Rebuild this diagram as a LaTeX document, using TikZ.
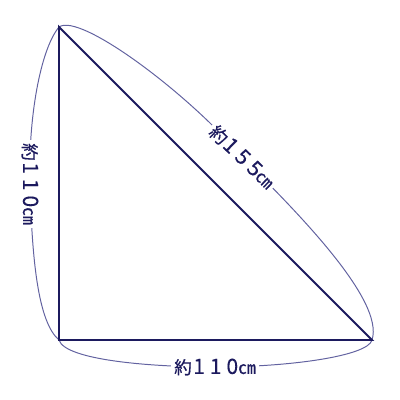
\documentclass[tikz,border=0pt]{standalone}
\usepackage{fontspec}
\setmainfont{Noto Sans CJK JP}
\newfontfamily\labelfont{Noto Sans CJK JP}[FakeBold=0.6]
\newfontfamily\numfont{Noto Sans CJK JP}[FakeBold=0.2]
\newcommand\bignum[1]{{\numfont\fontsize{15}{15}\selectfont#1}}
\usepackage{tikz}
\usetikzlibrary{backgrounds}
\definecolor{navy}{HTML}{1C1A5E}
\definecolor{lavender}{HTML}{6262A0}
\tikzstyle{side} = [navy, line width=1.4pt, line join=miter]
\tikzstyle{brace} = [lavender, line width=0.7pt]
\tikzstyle{size} = [fill=white, text=navy, inner sep=2pt, font=\labelfont\fontsize{12.5}{13}\selectfont]

\begin{document}
\begin{tikzpicture}[x=0.025cm, y=-0.025cm]
\useasboundingbox (0,0) rectangle (400,400);

\coordinate (top) at (59,27);
\coordinate (corner) at (59,340);
\coordinate (tip) at (372,340);

\node (left) [size, rotate=-90] at (30,184) {約\bignum{\kern1pt1\kern3.5pt1\kern3.5pt0}㎝};
\node (bottom) [size] at (215,367) {約\bignum{\kern1pt1\kern3.5pt1\kern3.5pt0}㎝};
\node (diag) [size, rotate=-44] at (242,157) {約\bignum{\kern1pt1\kern3.5pt5\kern3.5pt5}㎝};

\begin{scope}[on background layer]
\draw [brace] (top) .. controls (40,50) and (28,120) .. (left.center)
  .. controls (32,260) and (38,322) .. (corner);
\draw [brace] (corner) .. controls (65,360) and (150,367) .. (bottom.center)
  .. controls (290,367) and (368,356) .. (tip);
\draw [brace] (top) .. controls (80,12) and (190,95) .. (diag.center)
  .. controls (295,210) and (385,300) .. (tip);
\end{scope}

\draw [side] (top) -- (corner) -- (tip) -- cycle;

\end{tikzpicture}
\end{document}
